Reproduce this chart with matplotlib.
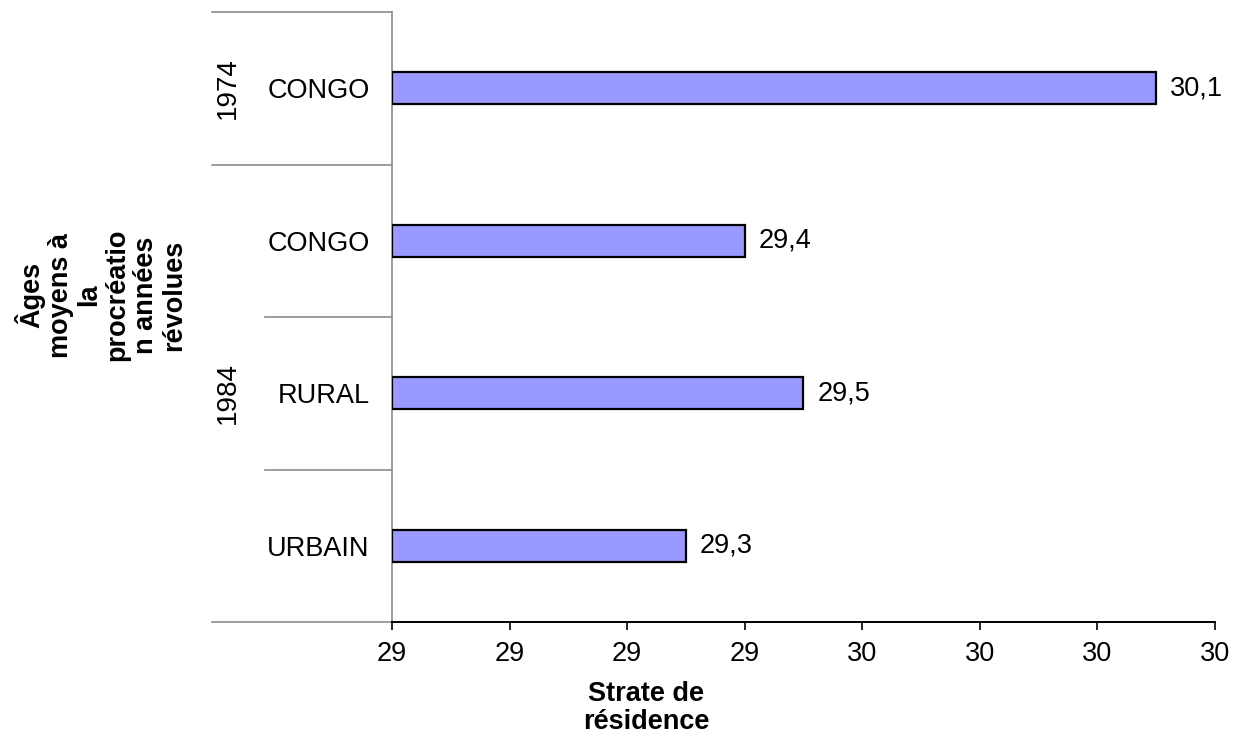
import matplotlib.pyplot as plt
import matplotlib.transforms as mtransforms
from matplotlib.ticker import MultipleLocator, FuncFormatter

plt.rcParams['font.family'] = ['Liberation Sans', 'DejaVu Sans']

# data
years = ['1974', '1984']
strates = ['CONGO', 'CONGO', 'RURAL', 'URBAIN']
year_of_bar = ['1974', '1984', '1984', '1984']
ages = [30.1, 29.4, 29.5, 29.3]

xmin, xmax = 28.8, 30.2
fs = 19.5

fig = plt.figure(figsize=(12.42, 7.35), dpi=100)
ax = fig.add_axes([392 / 1242, 1 - 622 / 735, (1215 - 392) / 1242, (622 - 12) / 735])

ypos = list(range(len(ages)))
ax.barh(ypos, [a - xmin for a in ages], left=xmin, height=0.21,
        color='#9999FF', edgecolor='black', linewidth=1.6, zorder=3)

for y, a in zip(ypos, ages):
    ax.annotate(f'{a:.1f}'.replace('.', ','), (a, y), xytext=(10, 0),
                textcoords='offset points', va='center', ha='left', fontsize=fs)

ax.set_xlim(xmin, xmax)
ax.set_ylim(len(ages) - 0.5, -0.5)
ax.xaxis.set_major_locator(MultipleLocator(0.2))
ax.xaxis.set_major_formatter(FuncFormatter(lambda v, p: f'{v:.0f}'))
ax.tick_params(axis='x', direction='out', length=6, width=1.2, pad=8,
               labelsize=fs, color='black')

ax.set_yticks(ypos)
ax.set_yticklabels(strates, fontsize=fs)
ax.tick_params(axis='y', length=0, pad=16)

for s in ['top', 'right']:
    ax.spines[s].set_visible(False)
ax.spines['left'].set_color('#8c8c8c')
ax.spines['left'].set_linewidth(1.2)
ax.spines['bottom'].set_color('black')
ax.spines['bottom'].set_linewidth(1.4)

# multi-level category separators
trans = mtransforms.blended_transform_factory(ax.transAxes, ax.transData)
outer_x = (212 - 392) / 823
inner_x = (265 - 392) / 823
bounds = [-0.5]
for i in range(1, len(ages)):
    bounds.append(i - 0.5)
bounds.append(len(ages) - 0.5)
for i, b in enumerate(bounds):
    outer = (i == 0 or i == len(bounds) - 1 or year_of_bar[i] != year_of_bar[i - 1])
    x0 = outer_x if outer else inner_x
    ax.plot([x0, 0], [b, b], color='#8c8c8c', lw=1.2, transform=trans,
            clip_on=False, zorder=1)

# year labels
year_x = (228 - 392) / 823
for yr in years:
    idx = [i for i, v in enumerate(year_of_bar) if v == yr]
    yc = (min(idx) + max(idx)) / 2
    ax.text(year_x, yc, yr, rotation=90, ha='center', va='center',
            fontsize=fs + 0.5, transform=trans)

fig.text(101 / 1242, 1 - 295 / 735,
         'Âges\nmoyens à\nla\nprocréatio\nn années\nrévolues',
         rotation=90, ha='center', va='center', multialignment='center',
         fontsize=19.5, fontweight='bold', linespacing=1.12)
fig.text(646 / 1242, 1 - 708 / 735, 'Strate de\nrésidence',
         ha='center', va='center', multialignment='center',
         fontsize=19.5, fontweight='bold', linespacing=1.1)

fig.savefig('out.png', dpi=100)
